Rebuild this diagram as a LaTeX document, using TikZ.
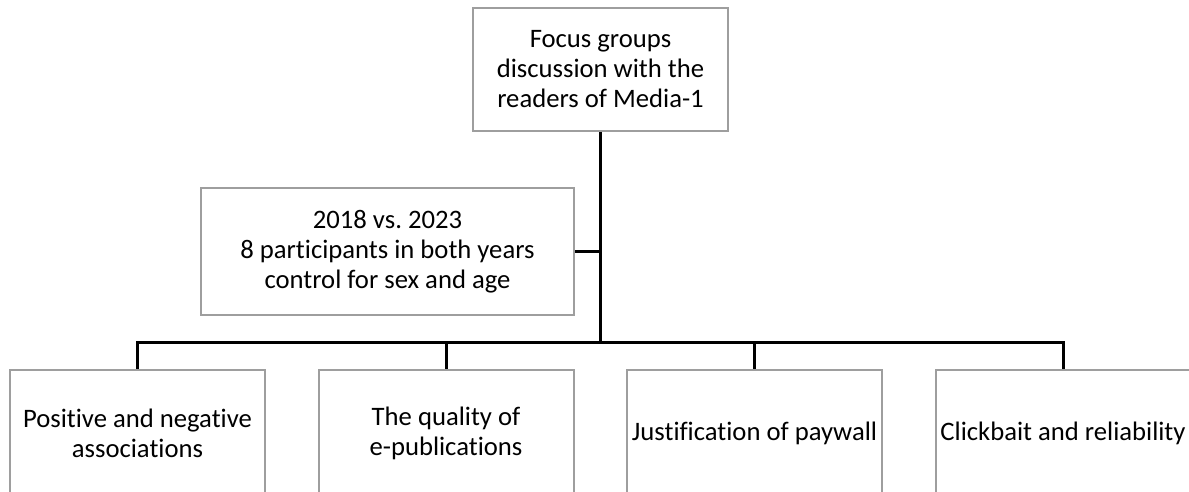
\documentclass[tikz,border=0pt]{standalone}
\usepackage{fontspec}
\setmainfont{Carlito}[Ligatures=NoCommon]
\usetikzlibrary{calc}
\frenchspacing

\begin{document}
\begin{tikzpicture}[x=0.75pt,y=0.75pt,
    box/.style={draw=black!38, line width=1.5pt, fill=white, align=center,
        font=\fontsize{20}{22.5}\selectfont,
        minimum width={255*0.75pt}, minimum height={123*0.75pt}, inner sep=0pt},
    link/.style={black, line width=2.25pt}]
    % Page size of the reference (pixels, y upwards)
    \def\W{1189}
    \def\H{492}
    \def\bary{149.5} % level of the horizontal bar

    \useasboundingbox (0,0) rectangle (\W,\H);
    \clip (0,0) rectangle (\W,\H);

    % Top box and the study design box
    \node[box] (focus) at (600.5, 422.5) {Focus groups\\discussion with the\\readers of Media-1};
    \node[box, minimum width={373*0.75pt}, minimum height={127*0.75pt}] (design) at (387.5, 240.5)
        {2018 vs. 2023\\8 participants in both years\\control for sex and age};

    % Topic boxes (bottom row, cut by the page edge)
    \node[box, anchor=north, minimum height={126*0.75pt}] (t1) at (137.5, 123) {Positive and negative\\associations};
    \node[box, anchor=north, minimum height={126*0.75pt}] (t2) at (446, 123) {The quality of\\e-publications};
    \node[box, anchor=north, minimum height={126*0.75pt}] (t3) at (754.5, 123) {Justification of paywall};
    \node[box, anchor=north, minimum height={126*0.75pt}] (t4) at (1063, 123) {Clickbait and reliability};

    % Connectors
    \coordinate (hub) at (focus.south |- 0,\bary);
    \draw[link] (focus.south) -- (hub);
    \draw[link] (design.east) -- (design.east -| focus.south);
    \foreach \i in {1,...,4}
        \draw[link] (hub) -| (t\i.north);

\end{tikzpicture}
\end{document}
